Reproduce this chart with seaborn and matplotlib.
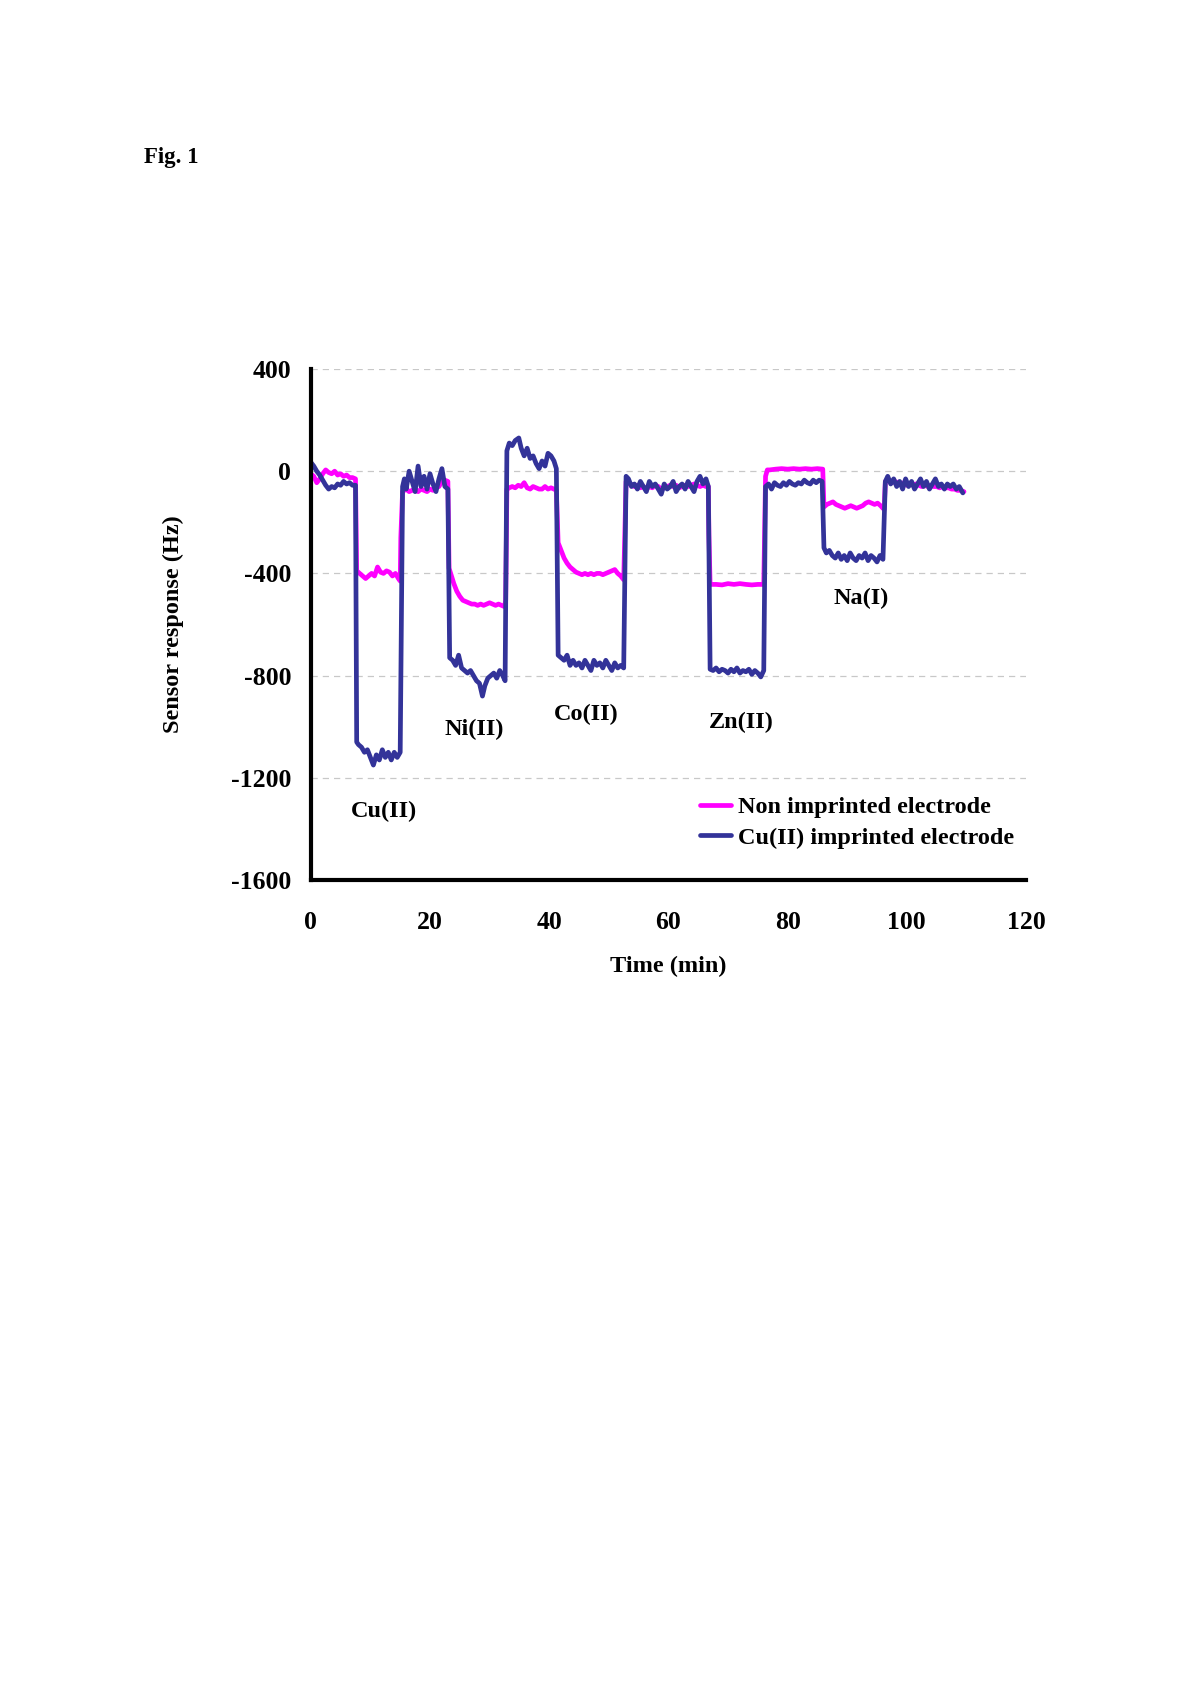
import numpy as np
import pandas as pd
import matplotlib
matplotlib.use("Agg")
import matplotlib.pyplot as plt
import seaborn as sns
from matplotlib.lines import Line2D

# ---------------- data ----------------
imp_time = [0, 0.5, 1.0, 1.5, 2.0, 2.5, 3.0, 3.5, 4.0, 4.5, 5.0, 5.5, 6.0, 6.5, 7.0, 7.5,
            7.7, 8.0, 8.5, 9.0, 9.5, 10.0, 10.5, 11.0, 11.5, 12.0, 12.5, 13.0, 13.5, 14.0, 14.5, 15.0,
            15.4, 15.7, 16.0, 16.5, 17.0, 17.5, 18.0, 18.5, 19.0, 19.5, 20.0, 20.5, 21.0, 21.5, 22.0, 22.5, 23.0,
            23.3, 23.8, 24.3, 24.8, 25.3, 25.8, 26.3, 26.8, 27.3, 27.8, 28.3, 28.8, 29.2, 29.7, 30.2, 30.7, 31.2, 31.7, 32.2, 32.6,
            32.9, 33.3, 33.8, 34.3, 34.9, 35.3, 35.8, 36.3, 36.8, 37.3, 37.8, 38.3, 38.8, 39.3, 39.8, 40.3, 40.8, 41.2,
            41.5, 42.0, 42.5, 43.0, 43.5, 44.0, 44.5, 45.0, 45.5, 46.0, 46.5, 47.0, 47.5, 48.0, 48.5, 49.0, 49.5, 50.0, 50.5, 51.0, 51.5, 52.0, 52.5,
            52.9, 53.3, 53.8, 54.3, 54.8, 55.3, 55.8, 56.3, 56.8, 57.3, 57.8, 58.3, 58.8, 59.3, 59.8, 60.3, 60.8, 61.3, 61.8, 62.3, 62.8, 63.3, 63.8, 64.3, 64.8, 65.3, 65.8, 66.3, 66.7,
            67.0, 67.5, 68.0, 68.5, 69.0, 69.5, 70.0, 70.5, 71.0, 71.5, 72.0, 72.5, 73.0, 73.5, 74.0, 74.5, 75.0, 75.5, 76.0,
            76.3, 76.8, 77.3, 77.8, 78.3, 78.8, 79.3, 79.8, 80.3, 80.8, 81.3, 81.8, 82.3, 82.8, 83.3, 83.8, 84.3, 84.8, 85.3, 85.8,
            86.1, 86.5, 87.0, 87.5, 88.0, 88.5, 89.0, 89.5, 90.0, 90.5, 91.0, 91.5, 92.0, 92.5, 93.0, 93.5, 94.0, 94.5, 95.0, 95.5, 96.0,
            96.4, 96.8, 97.3, 97.8, 98.3, 98.8, 99.3, 99.8, 100.3, 100.8, 101.3, 101.8, 102.3, 102.8, 103.3, 103.8, 104.3, 104.8, 105.3, 105.8, 106.3, 106.8, 107.3, 107.8, 108.3, 108.8, 109.4]
imp_resp = [35, 20, 0, -15, -35, -55, -70, -60, -65, -50, -55, -40, -50, -45, -55, -55,
            -1060, -1070, -1080, -1100, -1090, -1120, -1150, -1110, -1130, -1090, -1120, -1100, -1130, -1100, -1120, -1100,
            -60, -30, -70, 0, -40, -80, 20, -60, -20, -70, -10, -50, -80, -30, 10, -60, -70,
            -730, -740, -760, -720, -770, -780, -790, -780, -800, -820, -830, -880, -840, -810, -800, -790, -810, -780, -800, -820,
            80, 110, 100, 120, 130, 90, 60, 90, 50, 60, 30, 10, 40, 20, 70, 60, 40, 10,
            -720, -730, -740, -720, -760, -740, -760, -750, -770, -740, -760, -780, -740, -760, -750, -770, -740, -760, -780, -750, -770, -760, -770,
            -20, -30, -60, -50, -70, -40, -60, -80, -40, -60, -50, -70, -90, -50, -70, -60, -40, -80, -60, -50, -70, -40, -60, -80, -40, -20, -50, -30, -60,
            -775, -780, -770, -785, -775, -780, -790, -775, -785, -770, -790, -780, -785, -775, -795, -780, -790, -805, -780,
            -60, -50, -70, -45, -55, -60, -45, -55, -40, -50, -55, -45, -50, -35, -45, -50, -35, -45, -35, -40,
            -300, -320, -310, -330, -340, -320, -345, -330, -350, -320, -340, -350, -330, -340, -320, -350, -330, -340, -355, -330, -345,
            -40, -20, -50, -30, -60, -40, -70, -30, -60, -40, -70, -50, -30, -60, -40, -70, -50, -30, -60, -50, -70, -50, -60, -50, -70, -60, -85]

non_time = [0, 0.5, 1.0, 1.5, 2.0, 2.5, 3.0, 3.5, 4.0, 4.5, 5.0, 5.5, 6.0, 6.5, 7.0, 7.5,
            7.7, 8.2, 8.7, 9.2, 9.7, 10.2, 10.7, 11.2, 11.7, 12.2, 12.7, 13.2, 13.7, 14.2, 14.7, 15.0,
            15.1, 15.4, 16.0, 16.5, 17.0, 17.5, 18.0, 18.5, 19.0, 19.5, 20.0, 20.5, 21.0, 21.5, 22.0, 22.5, 23.0,
            23.2, 23.6, 24.0, 24.5, 25.0, 25.5, 26.0, 26.5, 27.0, 27.5, 28.0, 28.5, 29.0, 29.5, 30.0, 30.5, 31.0, 31.5, 32.0, 32.5, 32.7,
            32.9, 33.3, 33.8, 34.3, 34.8, 35.3, 35.8, 36.3, 36.8, 37.3, 37.8, 38.3, 38.8, 39.3, 39.8, 40.3, 40.8, 41.2,
            41.5, 42.0, 42.5, 43.0, 43.5, 44.0, 44.5, 45.0, 45.5, 46.0, 46.5, 47.0, 47.5, 48.0, 48.5, 49.0, 49.5, 50.0, 50.5, 51.0, 51.5, 52.0, 52.5,
            52.9, 53.3, 53.8, 54.3, 54.8, 55.3, 55.8, 56.3, 56.8, 57.3, 57.8, 58.3, 58.8, 59.3, 59.8, 60.3, 60.8, 61.3, 61.8, 62.3, 62.8, 63.3, 63.8, 64.3, 64.8, 65.3, 65.8, 66.3, 66.7,
            66.8, 67.0, 68.0, 69.0, 70.0, 71.0, 72.0, 73.0, 74.0, 75.0, 76.0,
            76.3, 76.6, 77.0, 78.0, 79.0, 80.0, 81.0, 82.0, 83.0, 84.0, 85.0, 85.9,
            86.1, 86.6, 87.1, 87.6, 88.1, 88.6, 89.1, 89.6, 90.1, 90.6, 91.1, 91.6, 92.1, 92.6, 93.1, 93.6, 94.1, 94.6, 95.1, 95.6, 96.2,
            96.4, 97.0, 97.5, 98.0, 98.5, 99.0, 99.5, 100.0, 100.5, 101.0, 101.5, 102.0, 102.5, 103.0, 103.5, 104.0, 104.5, 105.0, 105.5, 106.0, 106.5, 107.0, 107.5, 108.0, 108.5, 109.0, 109.6]
non_resp = [-10, -20, -45, -30, -10, 5, -5, -10, 0, -15, -10, -20, -15, -25, -25, -30,
            -390, -400, -410, -420, -410, -400, -410, -375, -395, -400, -390, -395, -410, -400, -420, -430,
            -260, -80, -70, -80, -75, -70, -80, -70, -75, -80, -70, -75, -65, -60, -40, -35, -40,
            -380, -410, -440, -470, -490, -505, -510, -515, -520, -520, -525, -520, -525, -520, -515, -520, -525, -520, -525, -530, -505,
            -70, -65, -60, -65, -55, -60, -45, -65, -70, -60, -65, -70, -70, -60, -70, -65, -70, -75,
            -280, -310, -340, -360, -375, -385, -395, -400, -405, -400, -405, -400, -405, -400, -400, -405, -400, -395, -390, -385, -400, -410, -425,
            -40, -45, -55, -60, -55, -65, -60, -70, -60, -65, -55, -60, -70, -65, -60, -55, -60, -55, -65, -60, -55, -60, -55, -50, -55, -60, -55, -60, -60,
            -250, -443, -443, -445, -440, -443, -440, -443, -445, -443, -443,
            -20, 5, 5, 8, 10, 8, 10, 8, 10, 8, 10, 8,
            -140, -130, -125, -120, -130, -135, -140, -145, -140, -135, -140, -145, -140, -135, -125, -120, -125, -130, -125, -135, -150,
            -40, -35, -45, -40, -45, -50, -45, -55, -50, -55, -50, -55, -60, -55, -60, -55, -60, -60, -65, -60, -65, -65, -70, -70, -75, -75, -80]

series_names = ["Non imprinted electrode", "Cu(II) imprinted electrode"]
ion_labels = ["Cu(II)", "Ni(II)", "Co(II)", "Zn(II)", "Na(I)"]
ion_label_t = [12.3, 27.4, 46.3, 72.3, 92.3]
ion_label_v = [-1330, -1010, -951, -984, -498]
x_ticks = [0, 20, 40, 60, 80, 100, 120]
y_ticks = [-1600, -1200, -800, -400, 0, 400]

# ---------------- figure ----------------
sns.set_theme(style="white")
plt.rcParams["font.family"] = ["Liberation Serif", "DejaVu Serif"]
plt.rcParams["font.weight"] = "bold"
plt.rcParams["text.color"] = "black"
plt.rcParams["axes.labelcolor"] = "black"
plt.rcParams["xtick.color"] = "black"
plt.rcParams["ytick.color"] = "black"

df = pd.concat([
    pd.DataFrame({"Time": non_time, "Resp": non_resp, "Series": series_names[0]}),
    pd.DataFrame({"Time": imp_time, "Resp": imp_resp, "Series": series_names[1]}),
], ignore_index=True)

fig = plt.figure(figsize=(12, 16.98), dpi=100)
ax = fig.add_axes([0.259, 0.4817, 0.596, 0.301])

palette = {series_names[0]: "#FF00FF", series_names[1]: "#333399"}
sns.lineplot(data=df, x="Time", y="Resp", hue="Series", palette=palette,
             estimator=None, sort=False, ax=ax, linewidth=3.4, legend=False)

for ln in ax.lines:
    ln.set_solid_joinstyle("round")

ax.set_xlim(0, 120)
ax.set_ylim(-1600, 400)
ax.set_xticks(x_ticks)
ax.set_yticks(y_ticks)
ax.set_xticklabels([str(v) for v in x_ticks], fontsize=18.5, fontweight="bold", color="black")
ax.set_yticklabels([str(v) for v in y_ticks], fontsize=18.5, fontweight="bold", color="black")

for y in y_ticks[1:]:
    ax.axhline(y, color="#c8c8c8", lw=0.9, ls=(0, (5, 4)), zorder=0)

for s in ["top", "right"]:
    ax.spines[s].set_visible(False)
for s in ["left", "bottom"]:
    ax.spines[s].set_linewidth(3.0)
    ax.spines[s].set_color("black")
ax.tick_params(axis="both", direction="out", length=7, width=3.0, color="black")
ax.tick_params(axis="x", pad=15)
ax.tick_params(axis="y", pad=7)

ax.set_xlabel("Time (min)", fontsize=17.5, fontweight="bold", labelpad=16, color="black")
ax.set_ylabel("Sensor response (Hz)", fontsize=17.5, fontweight="bold", labelpad=34, color="black")

for lab, t, v in zip(ion_labels, ion_label_t, ion_label_v):
    ax.text(t, v, lab, ha="center", va="center", fontsize=17.5, fontweight="bold", color="black")

handles = [Line2D([0], [0], color=palette[n], lw=3.4) for n in series_names]
leg = ax.legend(handles, series_names, loc="center left", bbox_to_anchor=(0.53, 0.113),
                frameon=False, fontsize=17.5, handlelength=1.3, handletextpad=0.3,
                labelspacing=0.35, borderaxespad=0)
for t in leg.get_texts():
    t.set_fontweight("bold")
    t.set_color("black")

fig.text(171 / 1200, 1 - 157 / 1698, "Fig. 1", ha="center", va="center", fontsize=16.5,
         fontweight="bold", color="black")

fig.savefig("out.png", dpi=100, facecolor="white")
